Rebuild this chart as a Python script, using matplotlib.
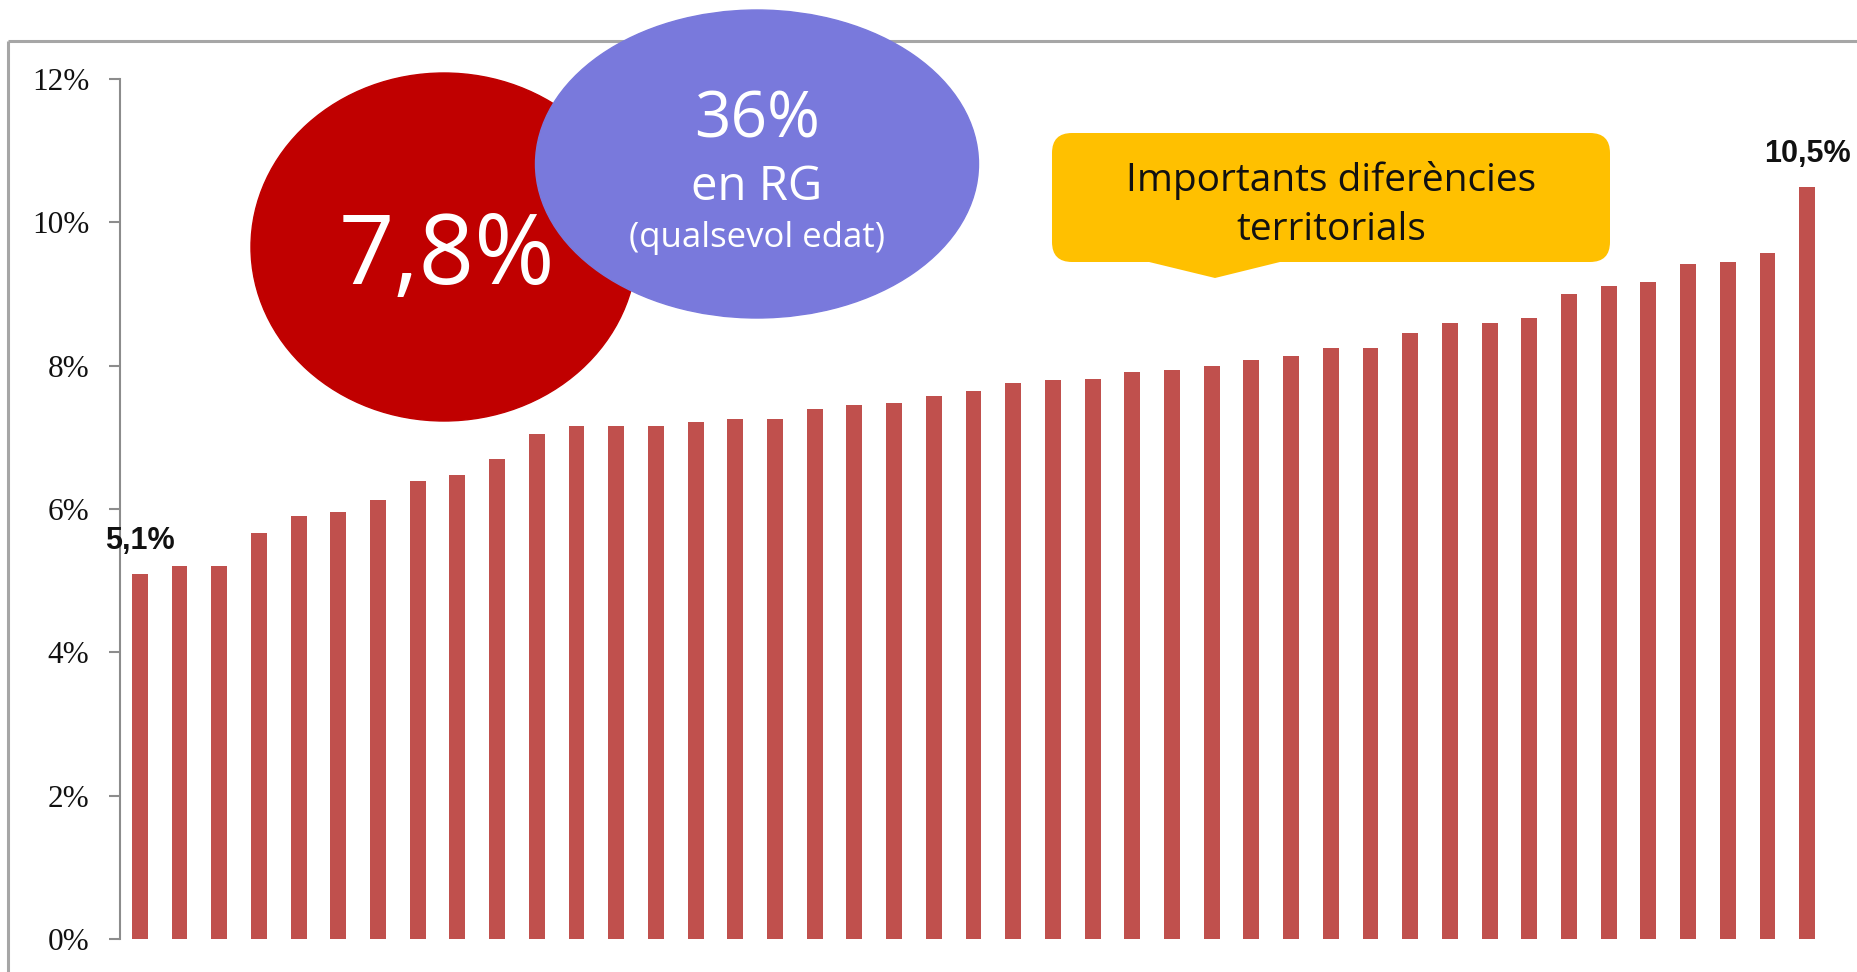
import matplotlib
matplotlib.use('Agg')
import matplotlib.pyplot as plt
from matplotlib.patches import Ellipse, FancyBboxPatch, Polygon
from matplotlib.ticker import FuncFormatter

# ---- dades ----
valors = [5.1, 5.2, 5.2, 5.67, 5.9, 5.96, 6.13, 6.39, 6.47, 6.7,
          7.05, 7.16, 7.16, 7.16, 7.21, 7.25, 7.25, 7.4, 7.45, 7.48,
          7.57, 7.65, 7.76, 7.8, 7.82, 7.91, 7.94, 8.0, 8.08, 8.14,
          8.25, 8.25, 8.46, 8.6, 8.6, 8.66, 9.0, 9.11, 9.17, 9.42,
          9.45, 9.57, 10.5]
y_ticks = [0, 2, 4, 6, 8, 10, 12]
etiquetes_extrems = {0: '5,1%', len(valors) - 1: '10,5%'}

mitjana_text = '7,8%'
rg_text = ['36%', 'en RG', '(qualsevol edat)']
nota_text = 'Importants diferències\nterritorials'

W, H = 1857, 972
fig = plt.figure(figsize=(W / 100, H / 100), dpi=100)
fig.patch.set_facecolor('white')

# ---- gràfic de barres ----
ax = fig.add_axes([120 / W, 33 / H, (1827 - 120) / W, (939 - 79) / H])
x = list(range(len(valors)))
ax.bar(x, valors, width=0.4, color='#C0504D', zorder=2)
ax.set_xlim(-0.5, len(valors) - 0.5)
ax.set_ylim(0, 12)
ax.set_yticks(y_ticks)
ax.yaxis.set_major_formatter(FuncFormatter(lambda v, p: f'{v:.0f}%'))
ax.set_xticks([])
for s in ['top', 'right', 'bottom']:
    ax.spines[s].set_visible(False)
ax.spines['left'].set_color('#8C8C8C')
ax.spines['left'].set_linewidth(1.5)
ax.tick_params(axis='y', direction='out', length=8, width=1.5, color='#8C8C8C',
               pad=14, labelsize=22.5, labelcolor='#111111')
for lbl in ax.get_yticklabels():
    lbl.set_fontfamily('Liberation Serif')
ax.patch.set_alpha(0)

for i, txt in etiquetes_extrems.items():
    ax.annotate(txt, (i, valors[i]), xytext=(0, 18), textcoords='offset points',
                ha='center', va='baseline', fontsize=22, fontweight='bold',
                family='Liberation Sans', color='#111111', zorder=5)

# ---- capa superior: marc, bombolles i nota ----
ov = fig.add_axes([0, 0, 1, 1], zorder=3)
ov.set_xlim(0, W)
ov.set_ylim(H, 0)
ov.axis('off')
ov.patch.set_alpha(0)

ov.plot([8, W], [41, 41], color='#A6A6A6', lw=2.2, zorder=1, solid_capstyle='butt')
ov.plot([8, 8], [41, H], color='#A6A6A6', lw=2.2, zorder=1, solid_capstyle='butt')

ov.add_patch(Ellipse((444, 247), 386, 348, color='#C00000', zorder=2))
ov.add_patch(Ellipse((757, 164), 443, 308, color='#7979DC', zorder=3))

ov.text(447, 258, mitjana_text, ha='center', va='center', fontsize=70,
        family='Open Sans', color='white', zorder=6)
ov.text(757, 121, rg_text[0], ha='center', va='center', fontsize=46,
        family='Open Sans', color='white', zorder=6)
ov.text(757, 187, rg_text[1], ha='center', va='center', fontsize=34,
        family='Open Sans', color='white', zorder=6)
ov.text(757, 238, rg_text[2], ha='center', va='center', fontsize=25,
        family='Open Sans', color='white', zorder=6)

ov.add_patch(FancyBboxPatch((1052, 133), 558, 129,
                            boxstyle='round,pad=0,rounding_size=20',
                            facecolor='#FFC000', edgecolor='none', zorder=4))
ov.add_patch(Polygon([(1145, 261), (1284, 261), (1215, 278)], closed=True,
                     facecolor='#FFC000', edgecolor='none', zorder=4))
ov.text(1331, 205, nota_text, ha='center', va='center', fontsize=28,
        family='Open Sans', color='#111111', linespacing=1.35, zorder=6)

fig.savefig('out.png', dpi=100, facecolor='white')
